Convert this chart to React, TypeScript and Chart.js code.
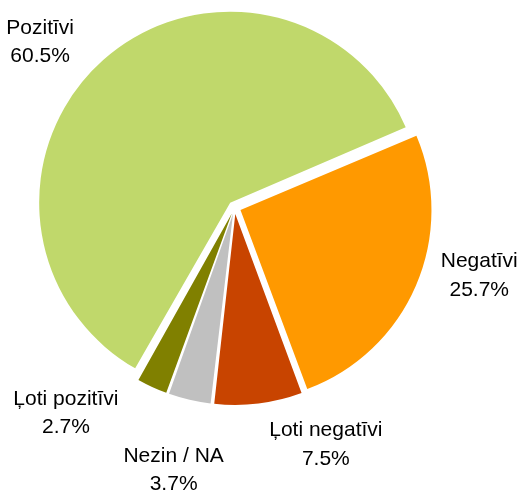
import React, { useEffect, useRef } from "react";
import { Chart, registerables } from "chart.js";

Chart.register(...registerables);

// ---- data ----
const categories = ["Negatīvi", "Ļoti negatīvi", "Nezin / NA", "Ļoti pozitīvi", "Pozitīvi"];
const values = [25.7, 7.5, 3.7, 2.7, 60.5];
const percentLabels = ["25.7%", "7.5%", "3.7%", "2.7%", "60.5%"];

// ---- styles / layout ----
const colors = ["#FF9900", "#C84400", "#C0C0C0", "#808000", "#C0D86B"];
const PIE_RADIUS = 191;
const EXPLODE = 6.5; // px that every slice is pulled out
const START_ROTATION = 67.1; // degrees clockwise from top
const LABEL_DIST = 221;
const LABEL_NUDGE: [number, number][] = [
  [40.6, -25.1],
  [61.4, 10],
  [-13.6, 38.6],
  [-79.2, -4.7],
  [-45.1, -10.6],
];
const FONT = '21px "Liberation Sans", Arial, sans-serif';
const LINE_GAP = 28.5;

// keep every exploded slice at the same radius (like the original)
const equalRadiusPlugin = {
  id: "equalRadius",
  beforeDatasetDraw(chart: any, args: any) {
    args.meta.data.forEach((arc: any) => {
      const circ = arc.circumference || arc.endAngle - arc.startAngle;
      const fix = 1 - Math.sin(Math.min(Math.PI, circ || 0));
      arc.outerRadius = PIE_RADIUS - EXPLODE * fix;
    });
  },
};

const labelPlugin = {
  id: "sliceLabels",
  afterDatasetsDraw(chart: any) {
    const ctx = chart.ctx;
    const meta = chart.getDatasetMeta(0);
    ctx.save();
    ctx.font = FONT;
    ctx.fillStyle = "#000000";
    ctx.textAlign = "center";
    ctx.textBaseline = "alphabetic";
    meta.data.forEach((arc: any, i: number) => {
      const { x, y } = arc.getProps(["x", "y"], true);
      // label direction from the un-rotated slice geometry
      const { startAngle, endAngle } = arc.getProps(["startAngle", "endAngle"], true);
      const mid = (startAngle + endAngle) / 2 - ((START_ROTATION - 66.3) * Math.PI) / 180;
      const [nx, ny] = LABEL_NUDGE[i] || [0, 0];
      const lx = x + Math.cos(mid) * LABEL_DIST + nx;
      const ly = y + Math.sin(mid) * LABEL_DIST + ny;
      ctx.fillText(categories[i], lx, ly);
      ctx.fillText(percentLabels[i], lx, ly + LINE_GAP);
    });
    ctx.restore();
  },
};

export default function App() {
  const canvasRef = useRef<HTMLCanvasElement | null>(null);

  useEffect(() => {
    if (!canvasRef.current) return;
    const chart = new Chart(canvasRef.current, {
      type: "pie",
      data: {
        labels: categories,
        datasets: [
          {
            data: values,
            backgroundColor: colors,
            borderWidth: 0,
            offset: EXPLODE * 4,
            rotation: START_ROTATION,
            radius: PIE_RADIUS,
          } as any,
        ],
      },
      options: {
        animation: false,
        responsive: true,
        maintainAspectRatio: false,
        rotation: START_ROTATION,
        radius: PIE_RADIUS,
        layout: { padding: { left: 0, right: 49, top: 0, bottom: 79 } },
        plugins: {
          legend: { display: false },
          tooltip: { enabled: false },
        },
      } as any,
      plugins: [equalRadiusPlugin, labelPlugin],
    });
    return () => chart.destroy();
  }, []);

  return (
    <div style={{ position: "absolute", left: 0, top: 0, width: 518, height: 494, background: "#ffffff" }}>
      <canvas ref={canvasRef} />
    </div>
  );
}
